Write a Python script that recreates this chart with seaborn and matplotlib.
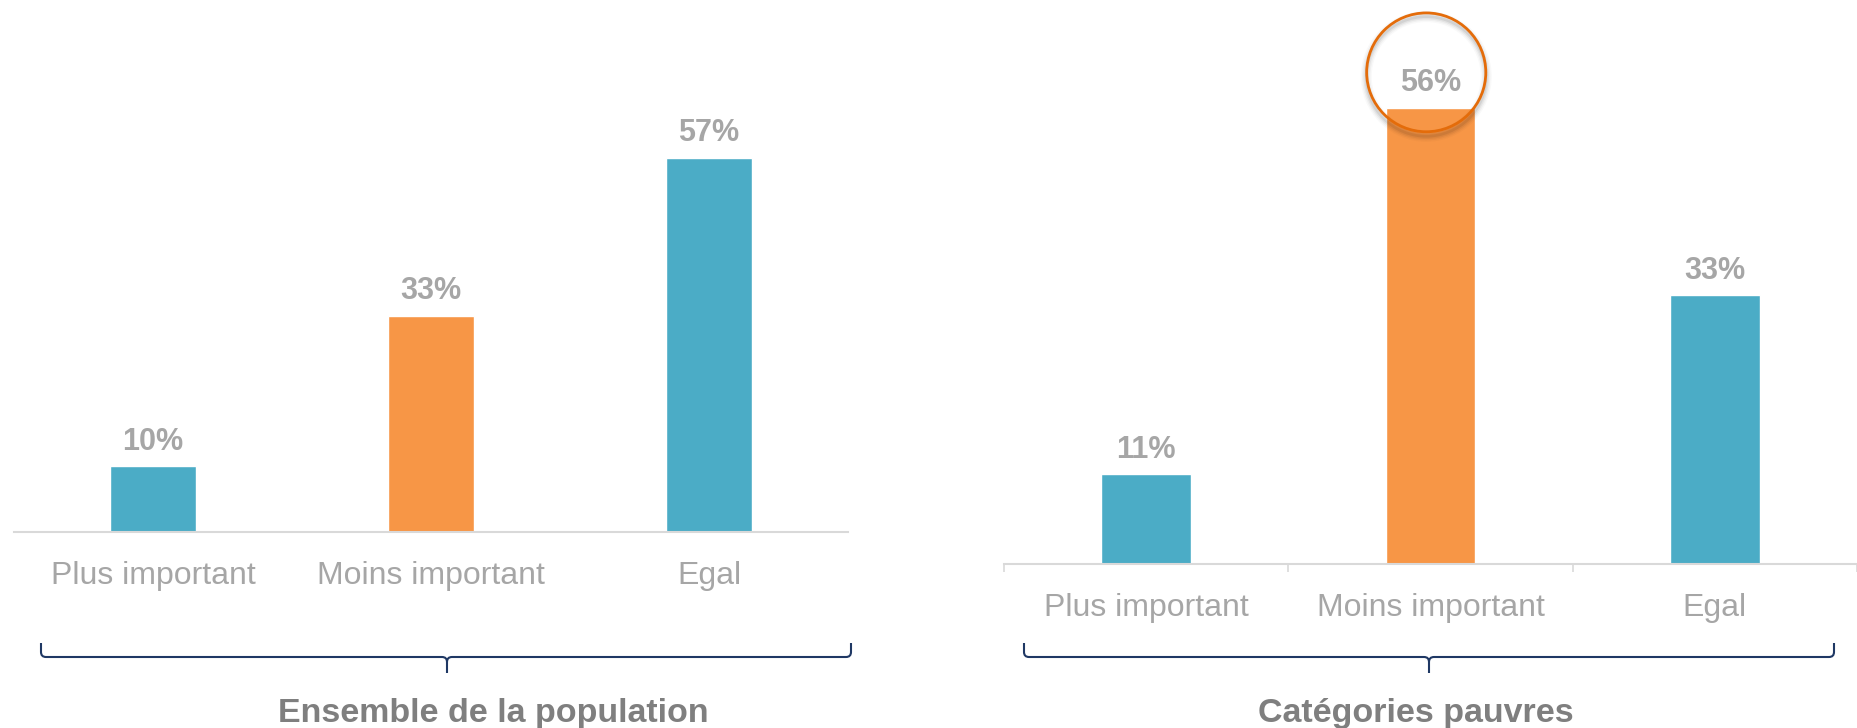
import matplotlib
matplotlib.use('Agg')
import matplotlib.pyplot as plt
import seaborn as sns
from matplotlib.patches import Ellipse, PathPatch
from matplotlib.path import Path

# data
categories = ['Plus important', 'Moins important', 'Egal']
ensemble = [10, 33, 57]
pauvres = [11, 56, 33]
group_titles = ['Ensemble de la population', 'Catégories pauvres']

BLUE = '#4BACC6'
ORANGE = '#F79646'
bar_colors = [BLUE, ORANGE, BLUE]
VALUE_GREY = '#A6A6A6'
TITLE_GREY = '#7F7F7F'
AXIS_GREY = '#D9D9D9'
NAVY = '#1F3864'

sns.set_style('white')
plt.rcParams['font.family'] = ['Liberation Sans', 'DejaVu Sans']

W, H = 1857, 728
fig = plt.figure(figsize=(W / 100, H / 100), dpi=100)


def px_axes(x0, x1, y_top, y_base):
    return fig.add_axes([x0 / W, 1 - y_base / H, (x1 - x0) / W, (y_base - y_top) / H])


def draw_panel(ax, values, width, ymax, xmax):
    sns.barplot(x=categories, y=values, hue=categories, palette=bar_colors,
                legend=False, width=width, saturation=1, ax=ax)
    ax.set_xlim(-0.5, xmax)
    ax.set_ylim(0, ymax)
    ax.set_yticks([])
    ax.set_xlabel('')
    ax.set_ylabel('')
    for side in ['top', 'left', 'right']:
        ax.spines[side].set_visible(False)
    ax.spines['bottom'].set_color(AXIS_GREY)
    ax.spines['bottom'].set_linewidth(1.5)
    ax.tick_params(axis='x', which='major', length=0, pad=21,
                   labelsize=23, labelcolor=VALUE_GREY)
    for cont in ax.containers:
        ax.bar_label(cont, fmt='%d%%', padding=7, fontsize=22,
                     fontweight='bold', color=VALUE_GREY)


ax1 = px_axes(14, 848, 0, 532)
draw_panel(ax1, ensemble, 0.31, 532 / 6.56, 2.5)

ax2 = px_axes(1004, 1857, 0, 564)
draw_panel(ax2, pauvres, 0.315, 564 / 8.14, 2.45)
ax2.set_xticks([-0.5, 0.5, 1.5, 2.5], minor=True)
ax2.tick_params(axis='x', which='minor', bottom=True, length=6, width=1.2,
                color=AXIS_GREY, direction='out')

# highlight circle around the 56% label, with a soft shadow
cx, cy = 0.985, pauvres[1] + 4.4
for k, a in enumerate([0.025, 0.035, 0.05, 0.07]):
    ax2.add_patch(Ellipse((cx, cy - 0.5), 0.422, 14.7, fill=False,
                          ec='black', lw=8 - 2 * k, alpha=a, clip_on=False, zorder=4))
ax2.add_patch(Ellipse((cx, cy), 0.419, 14.6, fill=False, ec='#E46C0A',
                      lw=2, clip_on=False, zorder=5))


def to_fig(x, y):
    return (x / W, 1 - y / H)


def brace(x0, x1, xm, y_end=643, y_mid=657, y_tip=673, r=5):
    pts = [
        (Path.MOVETO, (x0, y_end)),
        (Path.LINETO, (x0, y_mid - r)),
        (Path.CURVE3, (x0, y_mid)),
        (Path.CURVE3, (x0 + r, y_mid)),
        (Path.LINETO, (xm - r, y_mid)),
        (Path.CURVE3, (xm, y_mid)),
        (Path.CURVE3, (xm, y_mid + r)),
        (Path.LINETO, (xm, y_tip)),
        (Path.MOVETO, (xm, y_mid + r)),
        (Path.CURVE3, (xm, y_mid)),
        (Path.CURVE3, (xm + r, y_mid)),
        (Path.LINETO, (x1 - r, y_mid)),
        (Path.CURVE3, (x1, y_mid)),
        (Path.CURVE3, (x1, y_mid - r)),
        (Path.LINETO, (x1, y_end)),
    ]
    codes = [c for c, _ in pts]
    verts = [to_fig(*p) for _, p in pts]
    fig.add_artist(PathPatch(Path(verts, codes), fill=False, ec=NAVY, lw=1.5,
                             transform=fig.transFigure))


brace(41, 851, 447)
brace(1024, 1834, 1429)

for title, xc in zip(group_titles, [493, 1416]):
    fig.text(*to_fig(xc, 722), title, ha='center', va='baseline',
             fontsize=24.5, fontweight='bold', color=TITLE_GREY)

fig.savefig('out.png', dpi=100)
